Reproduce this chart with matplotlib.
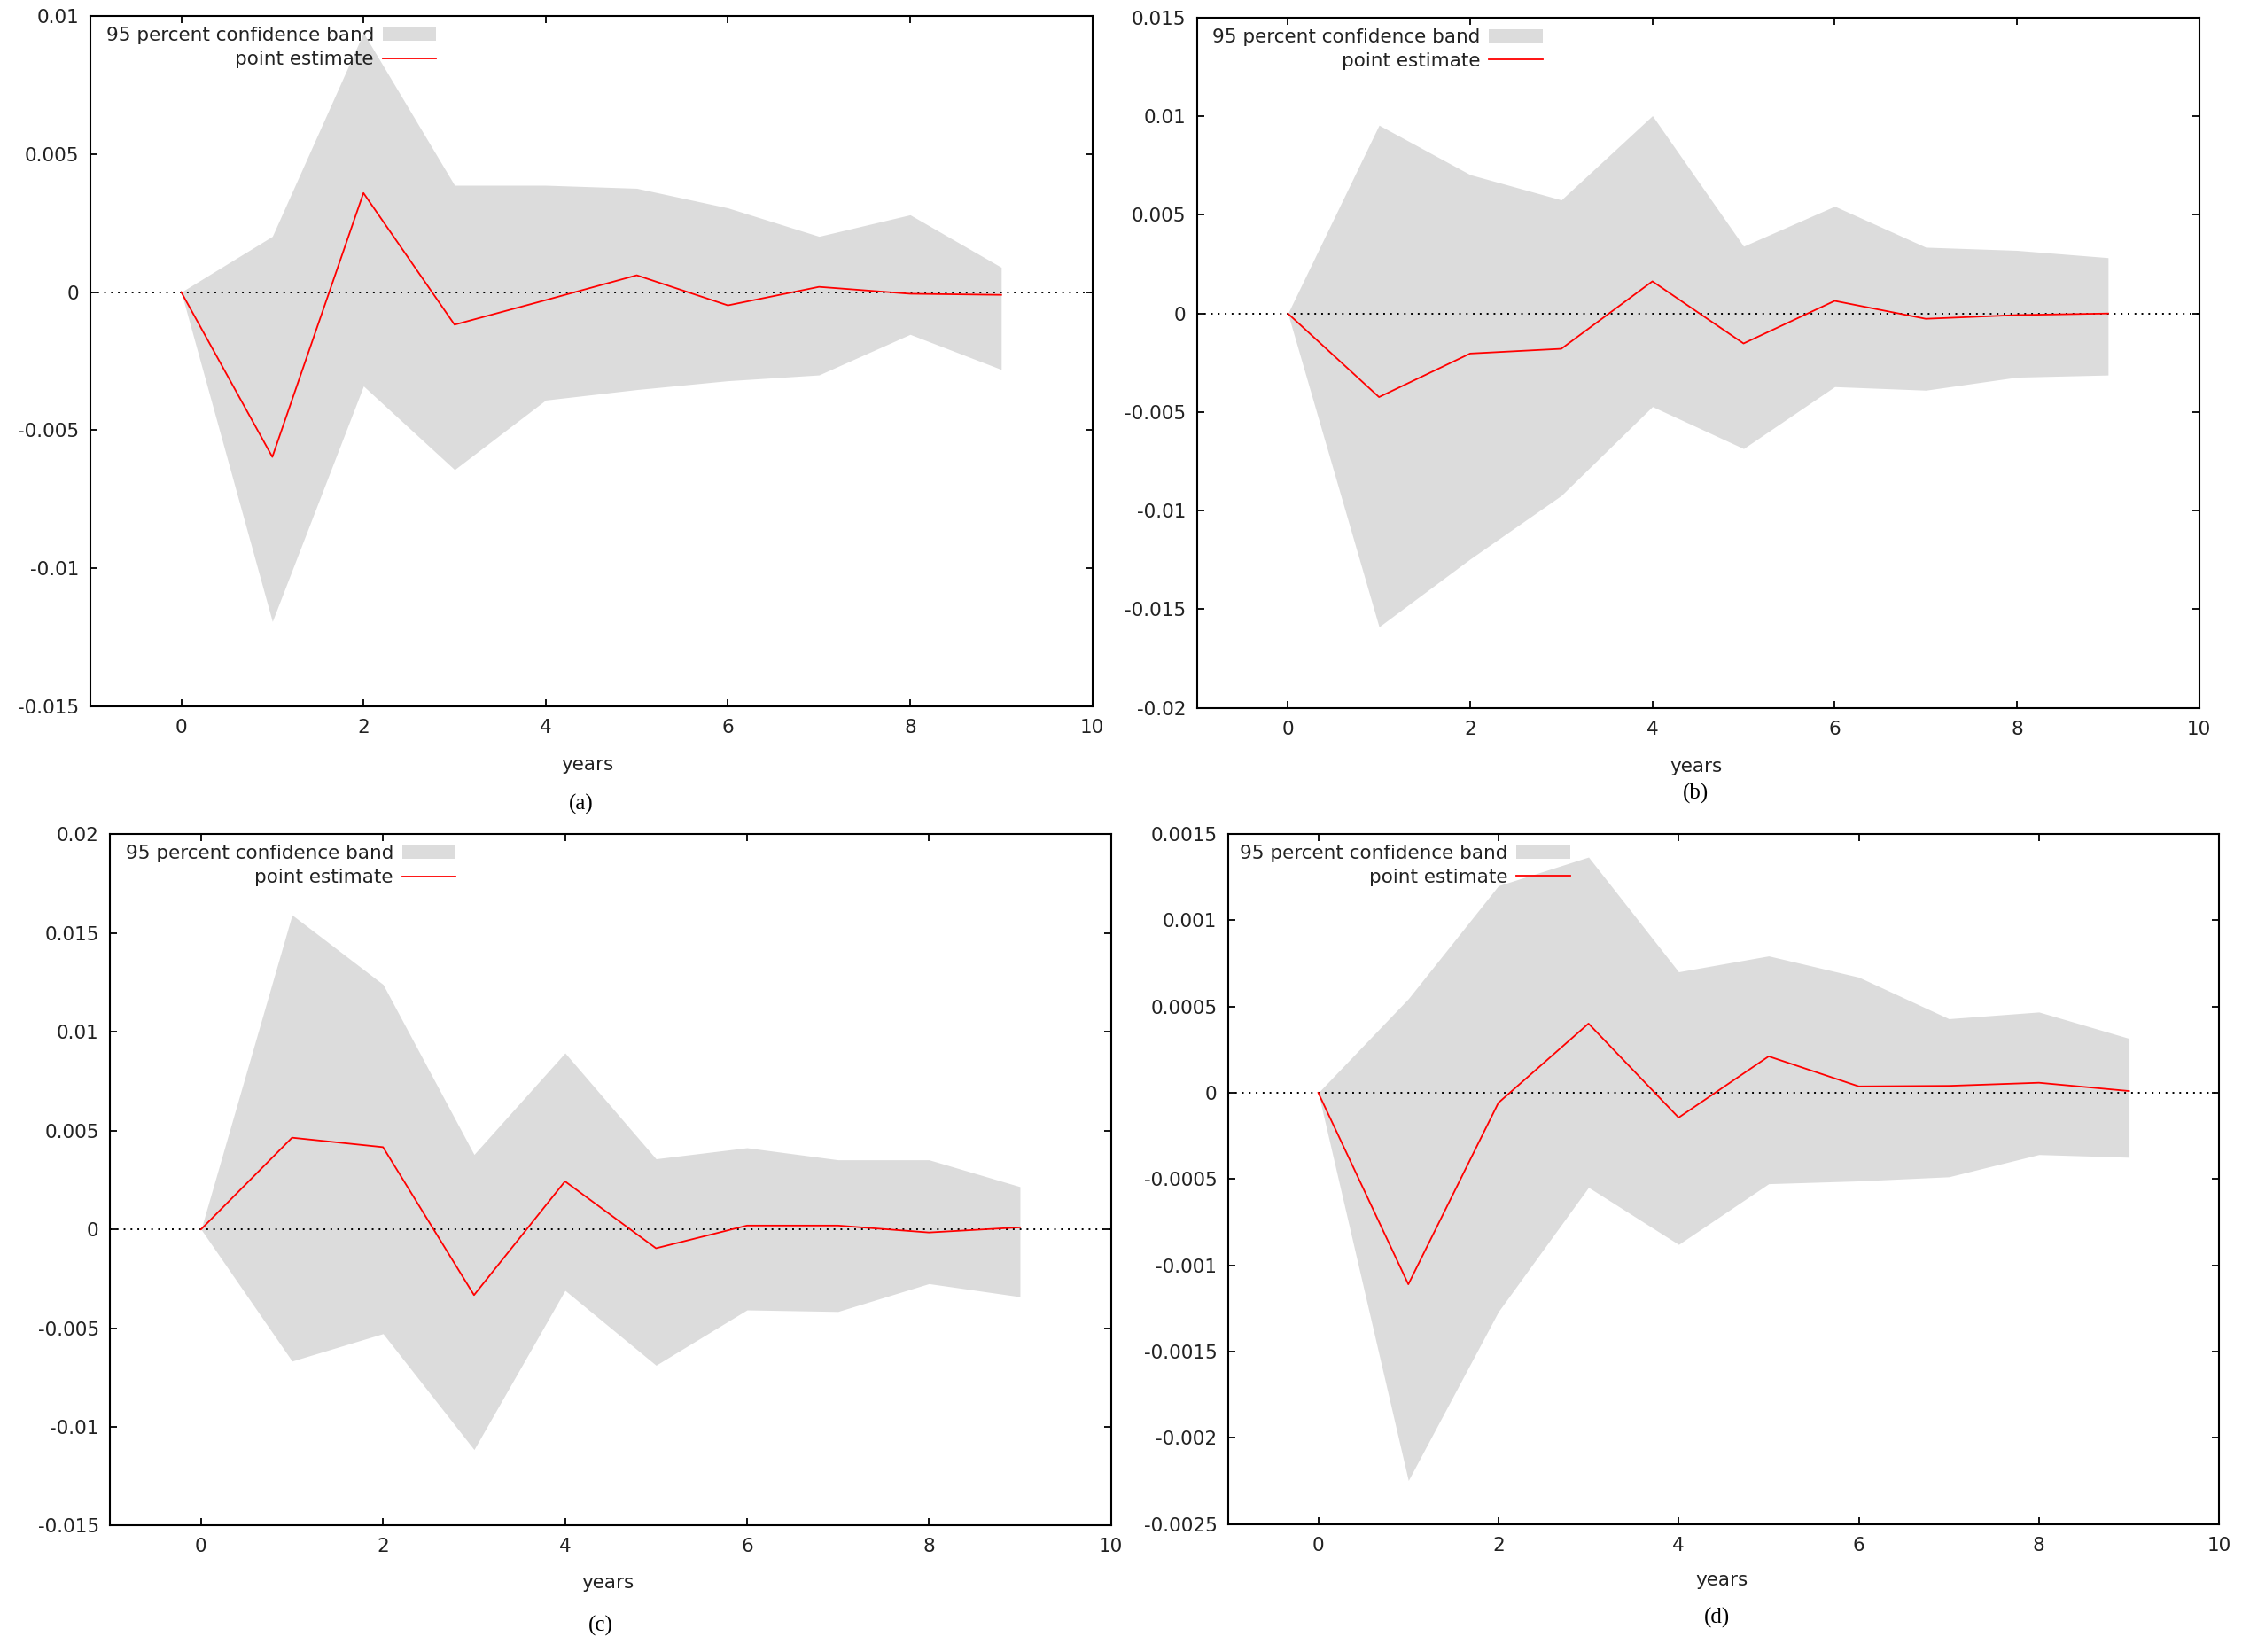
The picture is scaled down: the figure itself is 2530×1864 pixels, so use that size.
import numpy as np
import matplotlib
matplotlib.use("Agg")
import matplotlib.pyplot as plt
from matplotlib.patches import Patch
from matplotlib.lines import Line2D

#--- Data ---
years = [0, 1, 2, 3, 4, 5, 6, 7, 8, 9]

# (a)
est_a   = [0, -0.00597, 0.00359, -0.00118, -0.00029, 0.00061, -0.00048, 0.00019, -0.00006, -0.0001]
upper_a = [0, 0.00202, 0.00939, 0.00387, 0.00387, 0.00376, 0.00305, 0.00202, 0.0028, 0.0009]
lower_a = [0, -0.01193, -0.0034, -0.00643, -0.00391, -0.00353, -0.00321, -0.003, -0.00153, -0.0028]

# (b)
est_b   = [0, -0.00424, -0.00203, -0.00179, 0.00163, -0.00152, 0.00064, -0.00027, -0.00008, 0.0]
upper_b = [0, 0.00955, 0.00704, 0.00576, 0.01003, 0.00341, 0.00544, 0.00336, 0.0032, 0.00283]
lower_b = [0, -0.01589, -0.01245, -0.00923, -0.00472, -0.00685, -0.00371, -0.00389, -0.00323, -0.00312]

# (c)
est_c   = [0, 0.00464, 0.00416, -0.00333, 0.00243, -0.00096, 0.00019, 0.00019, -0.00016, 0.0001]
upper_c = [0, 0.01592, 0.0124, 0.00379, 0.00893, 0.00357, 0.00413, 0.00352, 0.00352, 0.00216]
lower_c = [0, -0.00667, -0.00528, -0.01115, -0.00309, -0.00688, -0.00408, -0.00416, -0.00275, -0.00341]

# (d)
est_d   = [0, -0.00111, -0.000058, 0.000401, -0.000144, 0.000211, 0.000037, 0.00004, 0.000058, 0.00001]
upper_d = [0, 0.000545, 0.0012, 0.001366, 0.000701, 0.000793, 0.00067, 0.000429, 0.000468, 0.000315]
lower_d = [0, -0.002247, -0.001268, -0.000548, -0.000879, -0.000527, -0.000511, -0.000487, -0.000358, -0.000374]

xticks = [0, 2, 4, 6, 8, 10]
yticks_a = [-0.015, -0.01, -0.005, 0, 0.005, 0.01]
yticks_b = [-0.02, -0.015, -0.01, -0.005, 0, 0.005, 0.01, 0.015]
yticks_c = [-0.015, -0.01, -0.005, 0, 0.005, 0.01, 0.015, 0.02]
yticks_d = [-0.0025, -0.002, -0.0015, -0.001, -0.0005, 0, 0.0005, 0.001, 0.0015]

band_label = "95 percent confidence band"
line_label = "point estimate"
panel_names = ["(a)", "(b)", "(c)", "(d)"]

#--- Style ---
fs = 15.5
band_color = "#dcdcdc"
text_color = "#222222"

fig = plt.figure(figsize=(25.3, 18.64), dpi=100)

panels = [
    ([0.0402, 0.5725, 0.4470, 0.4178], est_a, upper_a, lower_a, yticks_a, (0.262, 0.5368), (0.259, 0.5134)),
    ([0.5338, 0.5715, 0.4471, 0.4178], est_b, upper_b, lower_b, yticks_b, (0.7564, 0.5359), (0.7564, 0.5195)),
    ([0.0491, 0.0765, 0.4464, 0.4185], est_c, upper_c, lower_c, yticks_c, (0.271, 0.0416), (0.268, 0.0156)),
    ([0.5478, 0.0774, 0.4420, 0.4178], est_d, upper_d, lower_d, yticks_d, (0.768, 0.0433), (0.766, 0.0208)),
]


def fmt(v):
    # etiquettes facon gnuplot : 0.005, -0.0025, 0
    if abs(v) < 1e-12:
        return "0"
    return "%g" % v


#--- Tracé des 4 panneaux ---
for i, (rect, est, up, lo, yt, years_pos, name_pos) in enumerate(panels):
    ax = fig.add_axes(rect)

    ax.fill_between(years, lo, up, color=band_color, linewidth=0, zorder=2)
    ax.axhline(0, color="black", linestyle=(0, (1, 3)), linewidth=1.4, zorder=2.5)
    ax.plot(years, est, color="red", linewidth=1.3, zorder=3)

    ax.set_xlim(-1, 10)
    ax.set_ylim(yt[0], yt[-1])
    ax.set_xticks(xticks)
    ax.set_xticklabels([str(t) for t in xticks])
    ax.set_yticks(yt)
    ax.set_yticklabels([fmt(v) for v in yt])

    ax.tick_params(direction="in", top=True, right=True, length=6, width=1.3,
                   labelsize=fs, labelcolor=text_color)
    ax.tick_params(axis="x", pad=10)
    ax.tick_params(axis="y", pad=9)
    for s in ax.spines.values():
        s.set_linewidth(1.5)

    # legende en deux morceaux : la bande passe au-dessus du premier texte
    leg1 = ax.legend([Patch(facecolor=band_color, edgecolor="none")], [band_label],
                     loc="center right", bbox_to_anchor=(0.345, 0.972), frameon=False,
                     markerfirst=False, handlelength=2.8, handletextpad=0.45,
                     borderpad=0, borderaxespad=0, fontsize=fs, labelcolor=text_color)
    leg1.set_zorder(1)
    ax.add_artist(leg1)
    leg2 = ax.legend([Line2D([0], [0], color="red", linewidth=1.3)], [line_label],
                     loc="center right", bbox_to_anchor=(0.345, 0.937), frameon=False,
                     markerfirst=False, handlelength=2.8, handletextpad=0.45,
                     borderpad=0, borderaxespad=0, fontsize=fs, labelcolor=text_color)
    leg2.set_zorder(5)

    fig.text(years_pos[0], years_pos[1], "years", ha="center", va="center",
             fontsize=fs, color=text_color)
    fig.text(name_pos[0], name_pos[1], panel_names[i], ha="center", va="center",
             fontsize=18, family="Liberation Serif", color="black")

fig.savefig("out.png", dpi=100)
